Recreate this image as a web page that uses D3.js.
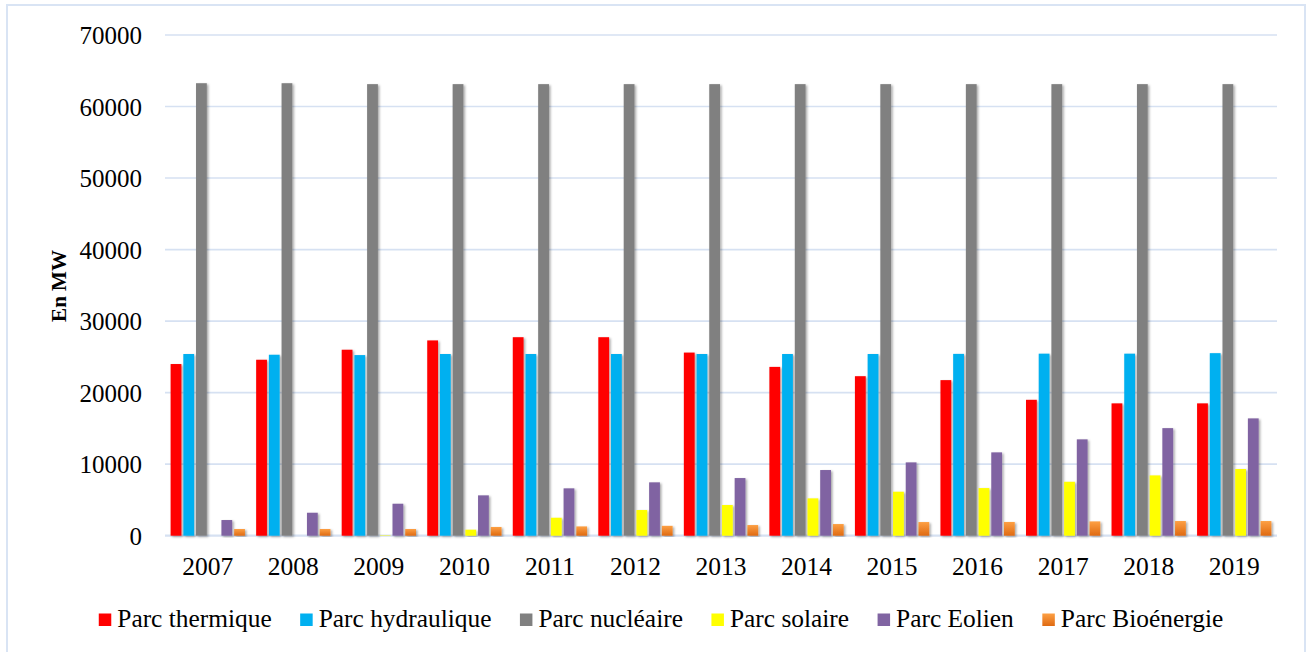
<!DOCTYPE html>
<html>
<head>
<meta charset="utf-8">
<script src="https://cdn.jsdelivr.net/npm/d3@7/dist/d3.min.js"></script>
<style>
  body { margin: 0; background: #fff; }
  svg text { font-family: "Liberation Serif", "DejaVu Serif", serif; fill: #000; }
</style>
</head>
<body>
<div id="chart"></div>
<script>
// Data (MW)
var years = ["2007","2008","2009","2010","2011","2012","2013","2014","2015","2016","2017","2018","2019"];
var seriesNames = ["Parc thermique","Parc hydraulique","Parc nucléaire","Parc solaire","Parc Eolien","Parc Bioénergie"];
var thermique   = [24000,24600,26000,27300,27750,27750,25600,23600,22300,21750,19000,18500,18500];
var hydraulique = [25400,25300,25250,25400,25400,25400,25400,25400,25400,25420,25450,25450,25520];
var nucleaire   = [63260,63260,63130,63130,63130,63130,63130,63130,63130,63130,63130,63130,63130];
var solaire     = [0,0,60,840,2510,3590,4290,5220,6150,6660,7540,8430,9320];
var eolien      = [2190,3210,4470,5640,6620,7460,8060,9180,10250,11650,13470,15040,16400];
var bioenergie  = [940,940,940,1220,1300,1380,1490,1630,1910,1920,2000,2050,2050];
var yTicks = [0,10000,20000,30000,40000,50000,60000,70000];
var colors = ["#FF0000","#00B0F0","#808080","#FFFF00","#8064A2","url(#bioGrad)"];

var width = 1309, height = 652;
var margin = {left: 165, right: 32, top: 35, bottom: 116};

var svg = d3.select("#chart").append("svg")
    .attr("width", width)
    .attr("height", height);

var defs = svg.append("defs");
var grad = defs.append("linearGradient")
    .attr("id", "bioGrad")
    .attr("x1", 0).attr("y1", 0).attr("x2", 0).attr("y2", 1);
grad.append("stop").attr("offset", "0%").attr("stop-color", "#FDA044");
grad.append("stop").attr("offset", "100%").attr("stop-color", "#DF6A12");

var shadow = defs.append("filter").attr("id", "shadow")
    .attr("x", "-30%").attr("y", "-5%").attr("width", "170%").attr("height", "115%");
shadow.append("feDropShadow")
    .attr("dx", 1.5).attr("dy", 1.2).attr("stdDeviation", 1.1)
    .attr("flood-color", "#000").attr("flood-opacity", 0.35);

// outer frame
svg.append("rect")
    .attr("x", 7).attr("y", 5)
    .attr("width", 1298).attr("height", 660)
    .attr("fill", "none")
    .attr("stroke", "#D9E4F4")
    .attr("stroke-width", 2);

var x0 = d3.scaleBand()
    .domain(years)
    .range([margin.left, width - margin.right])
    .paddingInner(0.109)
    .paddingOuter(0.0545);

var x1 = d3.scaleBand()
    .domain(d3.range(seriesNames.length))
    .range([0, x0.bandwidth()])
    .paddingInner(0.15)
    .paddingOuter(0.075);

var y = d3.scaleLinear()
    .domain([0, 70000])
    .range([height - margin.bottom - 0.3, margin.top]);

// gridlines
svg.append("g").selectAll("line")
    .data(yTicks)
    .enter().append("line")
    .attr("x1", margin.left)
    .attr("x2", width - margin.right)
    .attr("y1", function(d) { return y(d); })
    .attr("y2", function(d) { return y(d); })
    .attr("stroke", "#D6E1F2")
    .attr("stroke-width", function(d) { return d == 0 ? 2.2 : 1.6; });

// y axis labels
var yAxis = svg.append("g")
    .attr("transform", "translate(" + 142 + ",0)")
    .call(d3.axisLeft(y).tickValues(yTicks).tickSize(0).tickPadding(0).tickFormat(d3.format("d")));
yAxis.select(".domain").remove();
yAxis.selectAll("text")
    .attr("font-size", "25px")
    .attr("font-family", "Liberation Serif, serif")
    .attr("dy", "0.34em");

// x axis labels
var xAxis = svg.append("g")
    .attr("transform", "translate(0," + y(0) + ")")
    .call(d3.axisBottom(x0).tickSize(0).tickPadding(0));
xAxis.select(".domain").remove();
xAxis.selectAll("text")
    .attr("font-size", "25.5px")
    .attr("font-family", "Liberation Serif, serif")
    .attr("dy", null)
    .attr("y", 39);

// bars
var series = [thermique, hydraulique, nucleaire, solaire, eolien, bioenergie];
var groups = svg.append("g").selectAll("g")
    .data(years)
    .enter().append("g")
    .attr("transform", function(d) { return "translate(" + x0(d) + ",0)"; });

groups.selectAll("rect")
    .data(function(d, i) { return series.map(function(s, k) { return {k: k, v: s[i]}; }); })
    .enter().append("rect")
    .filter(function(d) { return d.v > 0; })
    .attr("x", function(d) { return x1(d.k); })
    .attr("width", x1.bandwidth())
    .attr("y", function(d) { return y(d.v); })
    .attr("height", function(d) { return y(0) - y(d.v); })
    .attr("fill", function(d) { return colors[d.k]; })
    .attr("filter", "url(#shadow)");

// y title
svg.append("text")
    .attr("transform", "translate(66,286) rotate(-90)")
    .attr("text-anchor", "middle")
    .attr("font-size", "21px")
    .attr("font-weight", "bold")
    .text("En MW");

// legend
var legend = svg.append("g");
var items = legend.selectAll("g")
    .data(seriesNames)
    .enter().append("g");
items.append("rect")
    .attr("width", 12.5).attr("height", 12.5)
    .attr("y", 613.5)
    .attr("fill", function(d, i) { return colors[i]; });
items.append("text")
    .attr("x", 18.5)
    .attr("y", 626.5)
    .attr("font-size", "25.4px")
    .text(function(d) { return d; });

var pos = 0, offsets = [];
items.each(function(d, i) {
    offsets.push(pos);
    var w = d3.select(this).select("text").node().getComputedTextLength();
    pos += 18.5 + w + 28.5;
});
var total = pos - 28.5;
var start = 661 - total / 2;
items.attr("transform", function(d, i) { return "translate(" + (start + offsets[i]) + ",0)"; });
</script>
</body>
</html>
